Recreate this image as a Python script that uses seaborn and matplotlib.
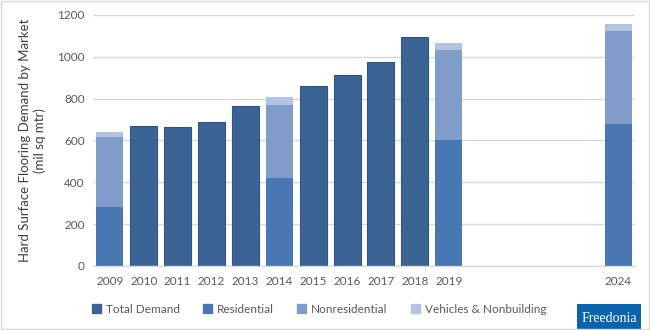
import matplotlib
matplotlib.use("Agg")
import matplotlib.pyplot as plt
import seaborn as sns
import pandas as pd
import numpy as np
from matplotlib.patches import Patch, Rectangle

years = ["2009", "2010", "2011", "2012", "2013", "2014", "2015", "2016",
         "2017", "2018", "2019", "2020", "2021", "2022", "2023", "2024"]
tick_labels = ["2009", "2010", "2011", "2012", "2013", "2014", "2015", "2016",
               "2017", "2018", "2019", "", "", "", "", "2024"]
total_demand = [np.nan, 667, 664, 688, 765, np.nan, 860, 911, 973, 1096,
                np.nan, np.nan, np.nan, np.nan, np.nan, np.nan]
residential = [281, np.nan, np.nan, np.nan, np.nan, 420, np.nan, np.nan, np.nan,
               np.nan, 600, np.nan, np.nan, np.nan, np.nan, 677]
nonresidential = [335, np.nan, np.nan, np.nan, np.nan, 349, np.nan, np.nan, np.nan,
                  np.nan, 433, np.nan, np.nan, np.nan, np.nan, 446]
vehicles = [24, np.nan, np.nan, np.nan, np.nan, 40, np.nan, np.nan, np.nan,
            np.nan, 34, np.nan, np.nan, np.nan, np.nan, 34]

c_total = "#3B6394"
c_res = "#4877B1"
c_nonres = "#809DC9"
c_veh = "#B4C4E0"

df = pd.DataFrame({"year": years, "total": total_demand, "res": residential,
                   "nonres": nonresidential, "veh": vehicles})
df["lvl1"] = df["res"]
df["lvl2"] = df["res"] + df["nonres"]
df["lvl3"] = df["res"] + df["nonres"] + df["veh"]

sns.set_style("white")
plt.rcParams["font.family"] = ["Lato", "DejaVu Sans"]

fig = plt.figure(figsize=(6.5, 3.3), dpi=100)
ax = fig.add_axes([0.143, 0.194, 0.834, 0.761])

common = dict(x="year", order=years, width=0.8, ax=ax, errorbar=None)
sns.barplot(data=df, y="lvl3", color=c_veh, saturation=1, linewidth=0, **common)
sns.barplot(data=df, y="lvl2", color=c_nonres, saturation=1, linewidth=0, **common)
sns.barplot(data=df, y="lvl1", color=c_res, saturation=1, linewidth=0, **common)
sns.barplot(data=df, y="total", color=c_total, saturation=1,
            edgecolor="#2E5585", linewidth=0.8, **common)

ax.set_ylim(0, 1200)
ax.set_xlim(-0.5, len(years) - 0.5)
ax.set_yticks(range(0, 1201, 200))
ax.set_yticklabels([str(v) for v in range(0, 1201, 200)], fontsize=8.5, color="#595959")
ax.set_xticks(range(len(years)))
ax.set_xticklabels(tick_labels, fontsize=8.5, color="#595959")
ax.tick_params(axis="both", length=0, pad=6)
ax.tick_params(axis="x", pad=7)
ax.yaxis.grid(True, color="#D9D9D9", linewidth=1)
ax.set_axisbelow(True)
for s in ["top", "right", "left"]:
    ax.spines[s].set_visible(False)
ax.spines["bottom"].set_color("#D9D9D9")
ax.spines["bottom"].set_linewidth(1)
ax.set_xlabel("")
ax.set_ylabel("Hard Surface Flooring Demand by Market\n(mil sq mtr)",
              fontsize=9.5, color="#404040", labelpad=8, linespacing=1.2)

handles = [Patch(color=c_total), Patch(color=c_res), Patch(color=c_nonres), Patch(color=c_veh)]
labels = ["Total Demand", "Residential", "Nonresidential", "Vehicles & Nonbuilding"]
fig.legend(handles, labels, loc="center", bbox_to_anchor=(0.491, 0.063), ncol=4,
           frameon=False, fontsize=8.5, handlelength=0.75, handleheight=0.75,
           handletextpad=0.4, columnspacing=2.0, labelcolor="#595959")

# logo
fig.patches.append(Rectangle((577 / 650, 0), 64 / 650, 26 / 330, transform=fig.transFigure,
                             facecolor="#0B63B0", edgecolor="none"))
fig.text(609 / 650, 12 / 330, "Freedonia", color="white", fontsize=10,
         family=["Liberation Serif", "DejaVu Serif"], ha="center", va="center")

# figure border
fig.patches.append(Rectangle((0.001, 0.002), 0.997, 0.995, transform=fig.transFigure,
                             facecolor="none", edgecolor="#D9D9D9", linewidth=1))

fig.savefig("out.png", dpi=100)
